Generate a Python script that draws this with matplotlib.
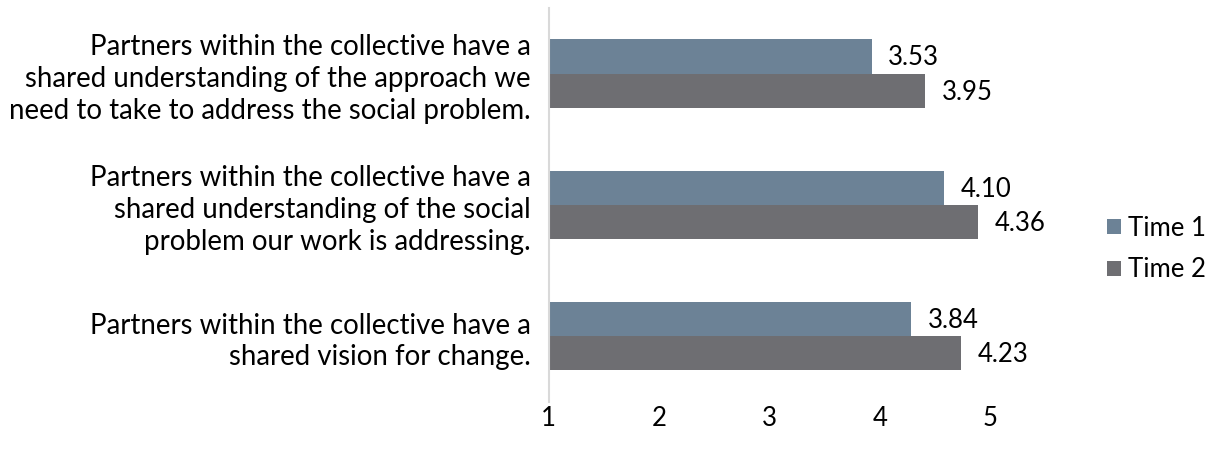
import matplotlib
matplotlib.use("Agg")
import matplotlib.pyplot as plt
from matplotlib.patches import Patch

plt.rcParams['font.family'] = ['Lato', 'DejaVu Sans']

categories = [
    "Partners within the collective have a\nshared understanding of the approach we\nneed to take to address the social problem.",
    "Partners within the collective have a\nshared understanding of the social\nproblem our work is addressing.",
    "Partners within the collective have a\nshared vision for change.",
]
series_names = ["Time 1", "Time 2"]
time1 = [3.53, 4.10, 3.84]
time2 = [3.95, 4.36, 4.23]
tick_labels = ["1", "2", "3", "4", "5"]
tick_values = [1, 2, 3, 4, 5]

colors = ["#6C8296", "#6E6E72"]
FS = 19.9
FS_VAL = 18.5

W, H = 1225, 455
fig = plt.figure(figsize=(W / 100, H / 100), dpi=100)
ax_l, ax_r, ax_t, ax_b = 548.6, 1059.4, 8.0, 401.6
ax = fig.add_axes([ax_l / W, (H - ax_b) / H, (ax_r - ax_l) / W, (ax_b - ax_t) / H])

n = len(categories)
ypos = [n - 1 - i for i in range(n)]
h = 0.26
ax.barh([y + h / 2 for y in ypos], [v - 1 for v in time1], left=1, height=h, color=colors[0])
ax.barh([y - h / 2 for y in ypos], [v - 1 for v in time2], left=1, height=h, color=colors[1])

for y, v in zip(ypos, time1):
    ax.annotate(f"{v:.2f}", (v, y + h / 2), xytext=(12, -1), textcoords="offset points",
                va="center", ha="left", fontsize=FS_VAL, color="#000000")
for y, v in zip(ypos, time2):
    ax.annotate(f"{v:.2f}", (v, y - h / 2), xytext=(12, -1), textcoords="offset points",
                va="center", ha="left", fontsize=FS_VAL, color="#000000")

ax.set_xlim(1, 5)
ax.set_ylim(-0.5, n - 0.5)
for s in ["top", "right", "bottom"]:
    ax.spines[s].set_visible(False)
ax.spines["left"].set_color("#D9D9D9")
ax.spines["left"].set_linewidth(1.5)
ax.set_xticks([])
ax.set_yticks([])

trans = ax.get_yaxis_transform()
for y, c in zip(ypos, categories):
    ax.annotate(c, (0, y), xycoords=trans, xytext=(-13, -4), textcoords="offset points",
                ha="right", va="center", fontsize=FS, multialignment="right",
                linespacing=1.28, color="#000000")

# value axis tick labels
ax2 = ax.twiny()
ax2.set_xlim(1, 1 + (ax_r - ax_l) / 110.4)
ax2.set_xticks(tick_values)
ax2.set_xticklabels(tick_labels, fontsize=FS_VAL)
ax2.xaxis.set_ticks_position("bottom")
ax2.xaxis.set_label_position("bottom")
ax2.tick_params(axis="x", length=0, pad=3)
for s in ax2.spines.values():
    s.set_visible(False)

handles = [Patch(facecolor=colors[0]), Patch(facecolor=colors[1])]
fig.legend(handles, series_names, loc="center left", bbox_to_anchor=(1107 / W, 1 - 249 / H),
           frameon=False, fontsize=FS_VAL, handlelength=0.55, handleheight=0.55,
           handletextpad=0.25, labelspacing=0.65, borderaxespad=0, borderpad=0)

fig.savefig("out.png", dpi=100)
